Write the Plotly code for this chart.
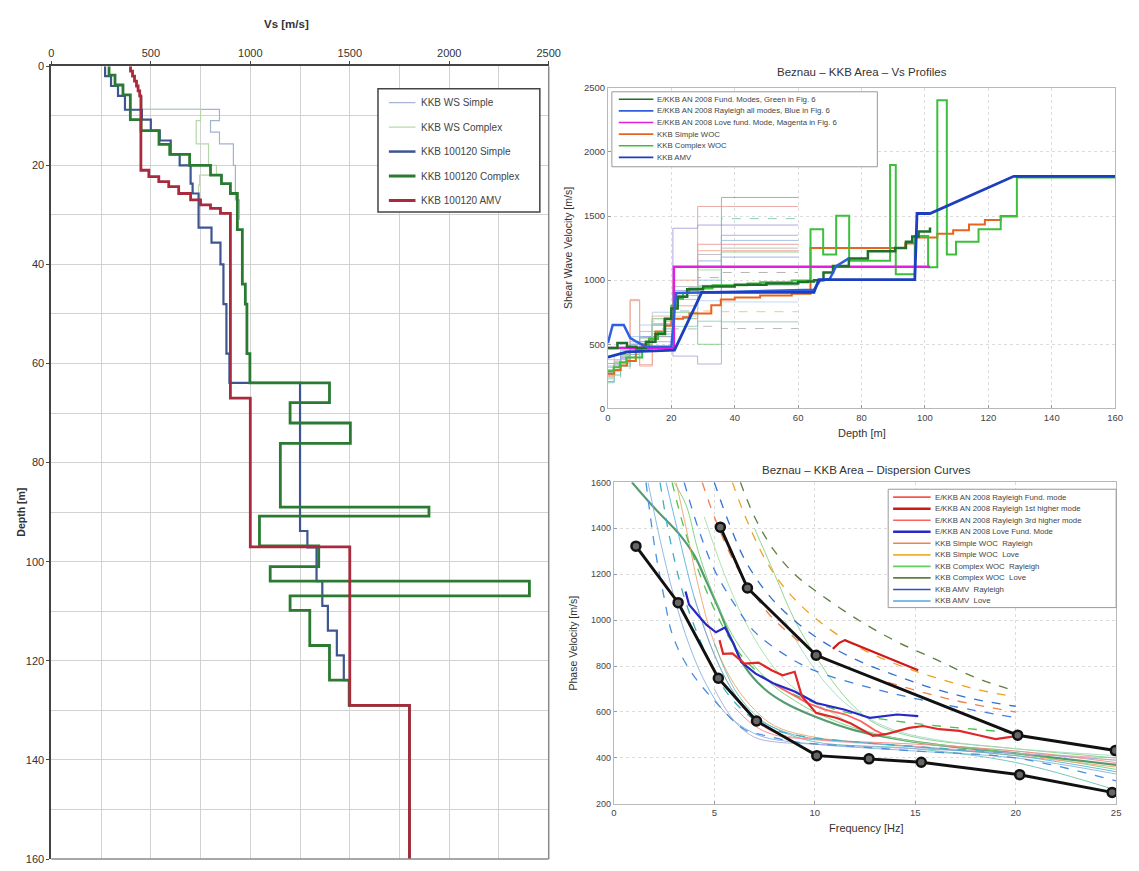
import plotly.graph_objects as go

W, H = 1139, 871
FONT = "Liberation Sans, Arial, sans-serif"

# ---------------- Left chart data: layer top depth [m] and Vs [m/s] ----------------
ws_simple_top = [6, 8.7, 11, 13.3, 15.7, 20, 27]
ws_simple_vs = [455, 845, 800, 845, 915, 925, 945]
ws_simple_bottom = 31

ws_complex_top = [6, 8.7, 11, 15.7, 20, 22, 24]
ws_complex_vs = [455, 750, 728, 790, 830, 745, 740]
ws_complex_bottom = 27

simple_top = [0, 2, 4, 6, 8.8, 10.8, 13, 15, 17.8, 20, 23.7, 25.7, 32.6, 35.6, 40, 48, 58,
              63.9, 93.8, 97.1, 103.9, 108.9, 113.9, 118.9, 123.9]
simple_vs = [270, 300, 335, 370, 455, 500, 545, 600, 645, 700, 710, 740, 805, 850, 865, 880, 895,
             1250, 1287, 1333, 1362, 1390, 1435, 1470, 1500]
simple_bottom = 129

complex_top = [0, 1.8, 3.8, 5.8, 10.8, 13, 15.8, 17.8, 20, 22, 23.7, 25.7, 33, 44, 48, 58, 63.9,
               67.9, 72, 76.1, 89, 90.8, 96.8, 101, 103.9, 106.9, 109.8, 116.9, 123.9, 129]
complex_vs = [290, 320, 360, 397, 451, 541, 595, 695, 800, 855, 900, 935, 960, 975, 983, 998, 1398,
              1200, 1503, 1151, 1898, 1046, 1344, 1100, 2403, 1200, 1299, 1398, 1497, 1800]
complex_bottom = 160

amv_top = [0, 1, 2, 3, 4, 5, 6, 21, 22.3, 23.3, 24.3, 25.7, 27, 28, 28.7, 29.7, 67, 97, 129]
amv_vs = [398, 408, 418, 428, 436, 444, 450, 490, 540, 590, 640, 700, 750, 800, 850, 900, 1000, 1500, 1800]
amv_bottom = 160

left_labels = ["KKB WS Simple", "KKB WS Complex", "KKB 100120 Simple", "KKB 100120 Complex", "KKB 100120 AMV"]

# ---------------- Top-right chart data (depth [m], Vs [m/s]) ----------------
fund_depth = [0, 3, 6, 9, 12, 15, 18, 20, 22, 25, 30, 40, 50, 60, 63, 65, 68, 71, 76, 82, 90.6, 94, 96, 98, 101.6]
fund_vs = [470, 510, 480, 470, 520, 580, 700, 780, 870, 930, 950, 965, 975, 985, 990, 1000, 1060, 1110,
           1170, 1226, 1250, 1300, 1340, 1380, 1410]
rayall_depth = [0, 1.5, 5, 7, 9, 12, 20, 21.5, 40, 60, 65, 67, 70, 72, 76]
rayall_vs = [510, 650, 650, 550, 520, 480, 480, 900, 910, 920, 925, 1000, 1010, 1110, 1170]
love_depth = [0, 20.8, 101.6]
love_vs = [470, 1105, 1105]
amv2_depth = [0, 6, 21, 29.6, 65, 66.5, 96.8, 97.5, 101.6, 128, 160]
amv2_vs = [400, 440, 455, 905, 905, 1005, 1005, 1520, 1520, 1810, 1810]

thin_top = [0, 2, 4, 7, 10, 14, 20.5, 28.3, 35.8]
thin_bottom = 60
thin_vs = [
    [210, 260, 330, 420, 500, 560, 700, 900, 1645],
    [250, 300, 380, 840, 450, 600, 800, 1575, 1575],
    [200, 240, 300, 380, 480, 620, 760, 950, 1480],
    [280, 330, 400, 460, 520, 560, 1405, 1430, 1430],
    [300, 350, 420, 500, 340, 700, 900, 1280, 1280],
    [260, 320, 400, 460, 550, 650, 950, 1200, 1250],
    [330, 380, 450, 520, 600, 700, 850, 1000, 1310],
    [270, 330, 380, 450, 560, 680, 880, 1020, 1060],
    [380, 420, 480, 560, 650, 750, 900, 960, 960],
    [280, 360, 430, 500, 600, 650, 720, 840, 830],
    [240, 300, 360, 430, 520, 600, 700, 760, 754],
    [230, 290, 350, 440, 520, 580, 640, 680, 675],
    [260, 310, 370, 420, 500, 560, 620, 640, 623],
    [300, 360, 420, 480, 550, 650, 750, 500, 1220],
    [290, 340, 390, 440, 480, 520, 408, 346, 1350],
    [320, 370, 360, 850, 330, 720, 1000, 1230, 1230],
    [350, 300, 410, 500, 560, 660, 920, 1150, 1180],
    [260, 300, 350, 400, 460, 700, 880, 1080, 1100],
]
thin_colors = ['#6cb8ac', '#e89a9a', '#7cc4b4', '#a898dc', '#f09090', '#b8b8b8', '#98bce8', '#a8a8a8',
               '#a8ccf0', '#b4d4f2', '#f4b880', '#88ccbc', '#b0b0b0', '#7ccc7c', '#b0a0e0', '#f4a890',
               '#90a8e0', '#a0d8a0']
thin_dash = ['solid', 'solid', 'dash', 'solid', 'solid', 'solid', 'solid', 'dash', 'solid', 'solid',
             'dash', 'solid', 'dash', 'solid', 'solid', 'solid', 'solid', 'solid']

tr_labels = ["E/KKB AN 2008 Fund. Modes, Green in Fig. 6",
             "E/KKB AN 2008 Rayleigh all modes, Blue in Fig. 6",
             "E/KKB AN 2008 Love fund. Mode, Magenta in Fig. 6",
             "KKB Simple WOC", "KKB Complex WOC", "KKB AMV"]

# ---------------- Bottom-right chart data (frequency [Hz], phase velocity [m/s]) ----------------
dashed_curves = [
    ([6.3, 7.0, 8.0, 9.0, 10, 12, 14, 16, 18, 20], [1600, 1450, 1300, 1200, 1130, 1010, 910, 830, 750, 690]),
    ([5.9, 6.5, 7.5, 8.5, 10, 12, 14, 16, 18, 20], [1600, 1460, 1270, 1140, 1010, 890, 810, 750, 700, 665]),
    ([5.0, 5.7, 6.6, 8, 10, 12, 14, 16, 18, 20], [1600, 1430, 1250, 1080, 930, 830, 760, 700, 655, 625]),
    ([4.4, 5, 6, 7, 8, 10, 12, 14, 17, 20], [1600, 1450, 1250, 1110, 1000, 860, 780, 720, 650, 600]),
    ([3.5, 4.2, 5, 6, 7, 8.5, 10, 13, 16, 20], [1600, 1400, 1220, 1070, 950, 850, 780, 700, 640, 575]),
    ([2.9, 3.5, 4.5, 5.5, 6.5, 8, 10, 12, 15, 20], [1600, 1400, 1150, 960, 830, 720, 640, 590, 550, 510]),
    ([2.3, 2.8, 3.5, 4.5, 5.5, 6.5, 7.5, 9, 12, 15, 20], [1600, 1350, 1100, 870, 700, 600, 540, 500, 470, 450, 420]),
    ([1.6, 2.05, 2.5, 2.94, 3.8, 5.1, 6.5, 7.6, 9, 12, 15, 20, 25], [1600, 1310, 1100, 930, 780, 640, 524, 496, 470, 450, 430, 400, 300]),
]
dashed_colors = ['#5f7f3f', '#f0a020', '#3070d0', '#f08050', '#4080e0', '#50c050', '#40b0c0', '#4a90e0']

solid_curves = [
    ([0.9, 2, 3.3, 4.0, 4.6, 5.2, 5.8, 6.5, 7.5, 8.5, 10, 12, 15, 20, 25], [1600, 1490, 1370, 1283, 1170, 1054, 926, 800, 700, 640, 580, 520, 470, 420, 370]),
    ([3.0, 3.6, 4.2, 5, 6, 7, 8, 9, 10, 12, 15, 20, 25], [1600, 1500, 1300, 1100, 920, 800, 710, 650, 600, 530, 470, 420, 350]),
    ([4.5, 5.5, 6.5, 7.5, 8.5, 10, 11, 12.5, 15, 20, 25], [1450, 1200, 1000, 850, 740, 640, 590, 520, 470, 430, 390]),
    ([3.1, 3.6, 4.2, 5, 6, 7, 8, 10, 15, 20, 25], [1600, 1400, 1150, 900, 720, 610, 540, 490, 450, 410, 360]),
    ([1.7, 2.3, 3, 3.8, 4.6, 5.5, 6.5, 7.5, 10, 15, 20, 25], [1600, 1350, 1100, 880, 720, 600, 530, 490, 460, 430, 400, 330]),
    ([4, 5, 6, 7, 8, 10, 15, 20, 25], [1100, 850, 680, 570, 510, 480, 450, 420, 400]),
    ([5, 6, 7, 8, 10, 15, 20, 25], [900, 700, 590, 530, 470, 440, 380, 260]),
    ([6, 7, 8, 10, 15, 20, 25], [620, 540, 500, 480, 460, 430, 380]),
    ([5, 6, 7, 8, 10, 15, 20, 25], [700, 560, 490, 470, 460, 440, 420, 390]),
    ([7, 8, 9, 10, 11, 12, 13, 15, 20, 25], [1400, 1200, 1000, 850, 720, 620, 550, 490, 440, 400]),
    ([8.5, 9.5, 10.5, 11.5, 12.5, 14, 16, 20, 25], [1000, 850, 730, 640, 580, 520, 480, 440, 410]),
    ([2.6, 3.2, 4, 5, 6, 7, 9, 12, 16, 20, 25], [1600, 1380, 1100, 850, 680, 580, 500, 470, 440, 410, 340]),
]
solid_colors = ['#3a8a5a', '#70d070', '#a0e0a0', '#f0a060', '#80b0e0', '#f0a0b0', '#60c0b0', '#ff8080',
                '#a8a8d8', '#80d080', '#a0d8c0', '#50b0d8']
solid_widths = [2.2, 1, 1, 1, 1, 1, 1, 1, 1, 1, 1, 1]

red_fund_f = [5.26, 5.44, 5.9, 6.5, 7.2, 7.85, 8.4, 9.0, 9.36, 10.07, 11.1, 11.8, 12.9, 13.6, 14.7, 15.4, 16.2, 17.2, 18.1, 19.0, 20.1]
red_fund_v = [913, 853, 855, 811, 815, 782, 760, 775, 668, 596, 574, 550, 496, 505, 531, 539, 525, 518, 500, 482, 496]
red_h1_f = [10.9, 11.2, 11.5, 12.0, 12.4, 13.0, 13.6, 14.2, 14.7, 15.15]
red_h1_v = [875, 900, 913, 895, 883, 860, 840, 815, 800, 782]
red_h3_f = [8.0, 8.8, 9.6, 10.5, 11.5, 12.3, 13.0, 13.5]
red_h3_v = [720, 680, 640, 610, 590, 560, 520, 500]
love_f = [3.57, 3.74, 4.2, 4.6, 5.08, 5.53, 5.97, 6.1, 6.33, 7.04, 7.93, 9.0, 10.07, 11.5, 12.75, 14.1, 15.15]
love_v = [1125, 1068, 1020, 980, 947, 968, 896, 870, 818, 768, 725, 689, 639, 610, 574, 589, 582]

black_low_f = [1.1, 3.2, 5.2, 7.1, 10.1, 12.7, 15.3, 20.2, 24.8]
black_low_v = [1322, 1076, 747, 561, 410, 396, 381, 327, 250]
black_up_f = [5.3, 6.65, 10.07, 20.1, 24.96]
black_up_v = [1405, 1140, 847, 499, 432]

br_labels = ["E/KKB AN 2008 Rayleigh Fund. mode", "E/KKB AN 2008 Rayleigh 1st higher mode",
             "E/KKB AN 2008 Rayleigh 3rd higher mode", "E/KKB AN 2008 Love Fund. Mode",
             "KKB Simple WOC  Rayleigh", "KKB Simple WOC  Love", "KKB Complex WOC  Rayleigh",
             "KKB Complex WOC  Love", "KKB AMV  Rayleigh", "KKB AMV  Love"]
br_colors = ['#ff5050', '#d01818', '#ff6060', '#2828c8', '#f08050', '#f0b030', '#60d060', '#5f7f3f',
             '#3050c0', '#50a8e0']


def px(x):
    return x / W


def py(y):
    return 1 - y / H


fig = go.Figure()

# ---- left chart traces ----
left_series = [
    (ws_simple_top, ws_simple_vs, ws_simple_bottom, '#a4b2d2', 1.2),
    (ws_complex_top, ws_complex_vs, ws_complex_bottom, '#b4d8a8', 1.2),
    (simple_top, simple_vs, simple_bottom, '#3d5590', 2.2),
    (complex_top, complex_vs, complex_bottom, '#2a7a32', 2.8),
    (amv_top, amv_vs, amv_bottom, '#a82a3c', 2.8),
]
for tops, vals, bottom, col, wd in left_series:
    fig.add_trace(go.Scatter(x=vals + [vals[-1]], y=tops + [bottom], mode='lines',
                             line=dict(color=col, width=wd, shape='vh'),
                             xaxis='x', yaxis='y', showlegend=False, hoverinfo='skip'))

# ---- top-right traces ----
for vals, col, dsh in zip(thin_vs, thin_colors, thin_dash):
    fig.add_trace(go.Scatter(x=thin_top + [thin_bottom], y=vals + [vals[-1]], mode='lines',
                             line=dict(color=col, width=1, shape='hv', dash=dsh), opacity=0.85,
                             xaxis='x2', yaxis='y2', showlegend=False, hoverinfo='skip'))

fig.add_trace(go.Scatter(x=simple_top + [simple_bottom], y=simple_vs + [simple_vs[-1]], mode='lines',
                         line=dict(color='#e8641e', width=2, shape='hv'), xaxis='x2', yaxis='y2',
                         showlegend=False, hoverinfo='skip'))
fig.add_trace(go.Scatter(x=complex_top + [complex_bottom], y=complex_vs + [complex_vs[-1]], mode='lines',
                         line=dict(color='#3cbf3c', width=2, shape='hv'), xaxis='x2', yaxis='y2',
                         showlegend=False, hoverinfo='skip'))
fig.add_trace(go.Scatter(x=love_depth, y=love_vs, mode='lines',
                         line=dict(color='#e020e0', width=2.5, shape='hv'), xaxis='x2', yaxis='y2',
                         showlegend=False, hoverinfo='skip'))
fig.add_trace(go.Scatter(x=fund_depth, y=fund_vs, mode='lines',
                         line=dict(color='#1f6f2a', width=2.5, shape='hv'), xaxis='x2', yaxis='y2',
                         showlegend=False, hoverinfo='skip'))
fig.add_trace(go.Scatter(x=rayall_depth, y=rayall_vs, mode='lines',
                         line=dict(color='#2f5fe0', width=2.5), xaxis='x2', yaxis='y2',
                         showlegend=False, hoverinfo='skip'))
fig.add_trace(go.Scatter(x=amv2_depth, y=amv2_vs, mode='lines',
                         line=dict(color='#1c3fbf', width=2.8), xaxis='x2', yaxis='y2',
                         showlegend=False, hoverinfo='skip'))

# ---- bottom-right traces ----
for (f, v), col, wd in zip(solid_curves, solid_colors, solid_widths):
    fig.add_trace(go.Scatter(x=f, y=v, mode='lines', line=dict(color=col, width=wd, shape='spline'),
                             opacity=0.85, xaxis='x3', yaxis='y3', showlegend=False, hoverinfo='skip'))
for (f, v), col in zip(dashed_curves, dashed_colors):
    fig.add_trace(go.Scatter(x=f, y=v, mode='lines', line=dict(color=col, width=1.3, dash='dash', shape='spline'),
                             xaxis='x3', yaxis='y3', showlegend=False, hoverinfo='skip'))
fig.add_trace(go.Scatter(x=red_h3_f, y=red_h3_v, mode='lines', line=dict(color='#ff6060', width=1.8),
                         xaxis='x3', yaxis='y3', showlegend=False, hoverinfo='skip'))
fig.add_trace(go.Scatter(x=love_f, y=love_v, mode='lines', line=dict(color='#2828c8', width=2.2),
                         xaxis='x3', yaxis='y3', showlegend=False, hoverinfo='skip'))
fig.add_trace(go.Scatter(x=red_fund_f, y=red_fund_v, mode='lines', line=dict(color='#e02828', width=2.2),
                         xaxis='x3', yaxis='y3', showlegend=False, hoverinfo='skip'))
fig.add_trace(go.Scatter(x=red_h1_f, y=red_h1_v, mode='lines', line=dict(color='#d01818', width=2.2),
                         xaxis='x3', yaxis='y3', showlegend=False, hoverinfo='skip'))
for f, v in [(black_low_f, black_low_v), (black_up_f, black_up_v)]:
    fig.add_trace(go.Scatter(x=f, y=v, mode='lines+markers', line=dict(color='#111', width=3),
                             marker=dict(size=9, color='#666', line=dict(color='#111', width=2.5)),
                             xaxis='x3', yaxis='y3', showlegend=False, hoverinfo='skip'))

# ---------------- layout ----------------
tick_small = dict(family=FONT, size=9.5, color='#444')
fig.update_layout(
    width=W, height=H, margin=dict(l=0, r=0, t=0, b=0),
    paper_bgcolor='white', plot_bgcolor='white',
    font=dict(family=FONT, color='#333'),
    xaxis=dict(domain=[px(49), px(553)], range=[0, 2500], side='top', anchor='y',
               tickvals=[0, 500, 1000, 1500, 2000, 2500], showgrid=True, gridcolor='#d2d2d2',
               minor=dict(dtick=250, showgrid=True, gridcolor='#d2d2d2'),
               showline=True, linecolor='#444', linewidth=2, mirror=False, ticks='outside', ticklen=3,
               tickfont=dict(family=FONT, size=11, color='#333'), zeroline=False),
    yaxis=dict(domain=[py(865), py(61)], range=[160, 0], anchor='x', dtick=20, showgrid=True,
               gridcolor='#d2d2d2', minor=dict(dtick=10, showgrid=True, gridcolor='#d2d2d2'),
               showline=True, linecolor='#444', linewidth=2, mirror=False, ticks='outside', ticklen=3,
               tickfont=dict(family=FONT, size=11, color='#333'), zeroline=False),
    xaxis2=dict(domain=[px(613), px(1127)], range=[0, 160], anchor='y2', dtick=20, showgrid=True,
                gridcolor='#dcdcdc', griddash='dot', showline=True, linecolor='#b8b8b8', mirror=True,
                ticks='inside', ticklen=3, tickcolor='#999', tickfont=tick_small, zeroline=False),
    yaxis2=dict(domain=[py(408), py(83)], range=[0, 2500], anchor='x2', dtick=500, showgrid=True,
                gridcolor='#dcdcdc', griddash='dot', showline=True, linecolor='#b8b8b8', mirror=True,
                ticks='inside', ticklen=3, tickcolor='#999', tickfont=tick_small, zeroline=False),
    xaxis3=dict(domain=[px(619), px(1128)], range=[0, 25], anchor='y3', dtick=5, showgrid=True,
                gridcolor='#dcdcdc', griddash='dot', showline=True, linecolor='#b8b8b8', mirror=True,
                ticks='inside', ticklen=3, tickcolor='#999', tickfont=tick_small, zeroline=False),
    yaxis3=dict(domain=[py(809), py(483)], range=[200, 1600], anchor='x3', dtick=200, showgrid=True,
                gridcolor='#dcdcdc', griddash='dot', showline=True, linecolor='#b8b8b8', mirror=True,
                ticks='inside', ticklen=3, tickcolor='#999', tickfont=dict(family=FONT, size=9, color='#444'),
                zeroline=False),
)

ann = []
shapes = []

# lighter right/bottom frame of the left chart
shapes.append(dict(type='line', xref='paper', yref='paper', x0=px(553), x1=px(553), y0=py(865), y1=py(61),
                   line=dict(color='#8a8a8a', width=1.5), layer='above'))
shapes.append(dict(type='line', xref='paper', yref='paper', x0=px(49), x1=px(553), y0=py(865), y1=py(865),
                   line=dict(color='#8a8a8a', width=1.5), layer='above'))


def text(x, y, s, size, bold=False, angle=0, xanchor='center', color='#333'):
    ann.append(dict(x=px(x), y=py(y), xref='paper', yref='paper', text=('<b>%s</b>' % s) if bold else s,
                    showarrow=False, textangle=angle, xanchor=xanchor, yanchor='middle',
                    font=dict(family=FONT, size=size, color=color)))


text(287, 18, "Vs [m/s]", 11.5, bold=True)
text(18, 513, "Depth [m]", 10.5, bold=True, angle=-90)
text(870, 67, "Beznau – KKB Area – Vs Profiles", 11.5)
text(870, 433, "Depth [m]", 11)
text(572, 245, "Shear Wave Velocity [m/s]", 10.5, angle=-90)
text(875, 470, "Beznau – KKB Area – Dispersion Curves", 11.5)
text(875, 833, "Frequency [Hz]", 11)
text(578, 646, "Phase Velocity [m/s]", 10.5, angle=-90)


def legend_box(x0, y0, x1, y1, col, wd):
    shapes.append(dict(type='rect', xref='paper', yref='paper', x0=px(x0), x1=px(x1), y0=py(y1), y1=py(y0),
                       fillcolor='white', line=dict(color=col, width=wd), layer='above'))


def legend_line(x0, x1, y, col, wd, dash='solid'):
    shapes.append(dict(type='line', xref='paper', yref='paper', x0=px(x0), x1=px(x1), y0=py(y), y1=py(y),
                       line=dict(color=col, width=wd, dash=dash), layer='above'))


# left legend
legend_box(380, 84, 544, 209, '#444', 1.5)
left_leg_cols = ['#a4b2d2', '#b4d8a8', '#3d5590', '#2a7a32', '#a82a3c']
left_leg_w = [1.2, 1.2, 2.5, 3, 3]
for i, lab in enumerate(left_labels):
    yy = 98 + i * 24.8
    legend_line(391, 418, yy, left_leg_cols[i], left_leg_w[i])
    text(422, yy, lab, 10, xanchor='left', color='#444')

# top-right legend
legend_box(617, 87, 886, 163, '#999', 1)
tr_cols = ['#1f6f2a', '#2f5fe0', '#e020e0', '#e8641e', '#3cbf3c', '#1c3fbf']
for i, lab in enumerate(tr_labels):
    yy = 94.5 + i * 11.8
    legend_line(624, 659, yy, tr_cols[i], 1.6)
    text(661, yy, lab, 7.8, xanchor='left', color='#444')

# bottom-right legend
legend_box(897, 490, 1128, 610, '#999', 1)
for i, lab in enumerate(br_labels):
    yy = 498 + i * 11.7
    legend_line(902, 940, yy, br_colors[i], 1.6 if i not in (1, 3) else 2.4)
    text(942, yy, lab, 7.8, xanchor='left', color='#444')

fig.update_layout(annotations=ann, shapes=shapes)
fig.write_html("out.html")
